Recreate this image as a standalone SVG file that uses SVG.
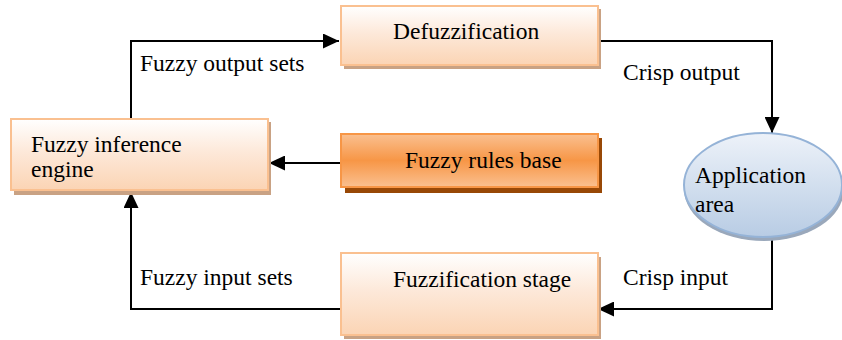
<svg xmlns="http://www.w3.org/2000/svg" width="842" height="340" viewBox="0 0 842 340">
<style>
text{font-family:'Liberation Serif','Times New Roman','DejaVu Serif',serif;font-size:23.5px;fill:#000}
.box{fill:url(#peach);stroke:#fac090;stroke-width:2}
.shadow{fill:#c9a284}
.conn{fill:none;stroke:#000;stroke-width:2}
</style>
<defs>
<linearGradient id="peach" x1="0" y1="0" x2="0" y2="1">
<stop offset="0" stop-color="#ffffff"/>
<stop offset="0.45" stop-color="#fde9da"/>
<stop offset="1" stop-color="#fbd4b4"/>
</linearGradient>
<linearGradient id="orange" x1="0" y1="0" x2="0" y2="1">
<stop offset="0" stop-color="#fac090"/>
<stop offset="0.5" stop-color="#f79646"/>
<stop offset="1" stop-color="#fac090"/>
</linearGradient>
<linearGradient id="blue" x1="0" y1="0" x2="0" y2="1">
<stop offset="0" stop-color="#edf2f9"/>
<stop offset="1" stop-color="#b8cce4"/>
</linearGradient>
<marker id="arr" markerUnits="userSpaceOnUse" markerWidth="16" markerHeight="15" refX="16" refY="7.5" orient="auto">
<path d="M0,0 L16,7.5 L0,15 Z" fill="#000"/>
</marker>
</defs>

<g id="connectors">
<path class="conn" d="M131,118 V41 H339" marker-end="url(#arr)"/>
<path class="conn" d="M598,41 H772 V133" marker-end="url(#arr)"/>
<path class="conn" d="M341,163 H269" marker-end="url(#arr)"/>
<path class="conn" d="M772,238 V309 H598" marker-end="url(#arr)"/>
<path class="conn" d="M341,309 H131 V192" marker-end="url(#arr)"/>
</g>

<g id="labels" font-family="Liberation Serif, serif">
<text x="140" y="71">Fuzzy output sets</text>
<text x="623" y="80">Crisp output</text>
<text x="623" y="285">Crisp input</text>
<text x="140" y="285">Fuzzy input sets</text>
</g>

<g id="defuzzification">
<rect class="shadow" x="344" y="9" width="257" height="60"/>
<rect class="box" x="341" y="6" width="257" height="59"/>
<text x="393" y="39">Defuzzification</text>
</g>

<g id="inference-engine">
<rect class="shadow" x="14" y="122" width="257" height="73"/>
<rect class="box" x="11" y="119" width="257" height="71"/>
<text x="31" y="152">Fuzzy inference</text>
<text x="31" y="177">engine</text>
</g>

<g id="rules-base">
<rect x="345" y="138" width="257" height="55" fill="#984806"/>
<rect x="341" y="134" width="257" height="53" fill="url(#orange)" stroke="#f79646" stroke-width="2"/>
<text x="405" y="168">Fuzzy rules base</text>
</g>

<g id="fuzzification">
<rect class="shadow" x="344" y="257" width="257" height="82"/>
<rect class="box" x="341" y="253" width="257" height="82"/>
<text x="393" y="287">Fuzzification stage</text>
</g>

<g id="application-area">
<ellipse cx="764" cy="189" rx="80" ry="52" fill="#9aa8bb"/>
<ellipse cx="763" cy="185" rx="79" ry="52" fill="url(#blue)" stroke="#95b3d7" stroke-width="2"/>
<text x="695" y="183">Application</text>
<text x="695" y="212">area</text>
</g>
</svg>
